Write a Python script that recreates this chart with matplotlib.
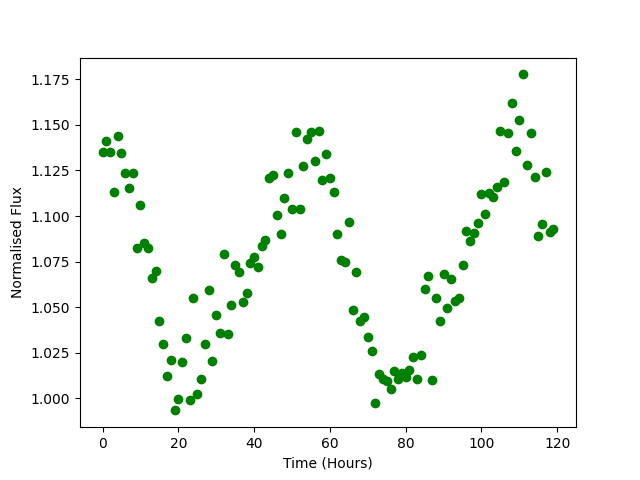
import matplotlib
matplotlib.use("Agg")
import matplotlib.pyplot as plt
import numpy as np

# one reading per hour
hours = np.arange(120)

flux = [
    1.1349, 1.1413, 1.1353, 1.1130, 1.1439, 1.1344, 1.1234, 1.1152, 1.1234, 1.0823,
    1.1059, 1.0850, 1.0826, 1.0658, 1.0698, 1.0422, 1.0296, 1.0121, 1.0210, 0.9934,
    0.9996, 1.0199, 1.0329, 0.9989, 1.0549, 1.0022, 1.0104, 1.0296, 1.0592, 1.0205,
    1.0455, 1.0357, 1.0790, 1.0351, 1.0510, 1.0731, 1.0691, 1.0527, 1.0576, 1.0741,
    1.0775, 1.0719, 1.0834, 1.0868, 1.1207, 1.1223, 1.1004, 1.0900, 1.1100, 1.1236,
    1.1037, 1.1459, 1.1037, 1.1273, 1.1424, 1.1459, 1.1300, 1.1465, 1.1196, 1.1340,
    1.1207, 1.1130, 1.0900, 1.0759, 1.0746, 1.0965, 1.0483, 1.0691, 1.0422, 1.0446,
    1.0335, 1.0259, 0.9973, 1.0132, 1.0108, 1.0097, 1.0049, 1.0150, 1.0104, 1.0137,
    1.0115, 1.0155, 1.0228, 1.0104, 1.0236, 1.0598, 1.0671, 1.0099, 1.0549, 1.0422,
    1.0682, 1.0494, 1.0653, 1.0532, 1.0549, 1.0730, 1.0916, 1.0863, 1.0905, 1.0960,
    1.1121, 1.1011, 1.1125, 1.1106, 1.1161, 1.1466, 1.1185, 1.1454, 1.1618, 1.1355,
    1.1528, 1.1777, 1.1278, 1.1454, 1.1212, 1.0889, 1.0956, 1.1240, 1.0911, 1.0927,
]

plt.figure(figsize=(6.4, 4.8), dpi=100)
plt.scatter(hours, flux, color='green')
plt.xlabel('Time (Hours)')
plt.ylabel('Normalised Flux')
plt.savefig('out.png')
